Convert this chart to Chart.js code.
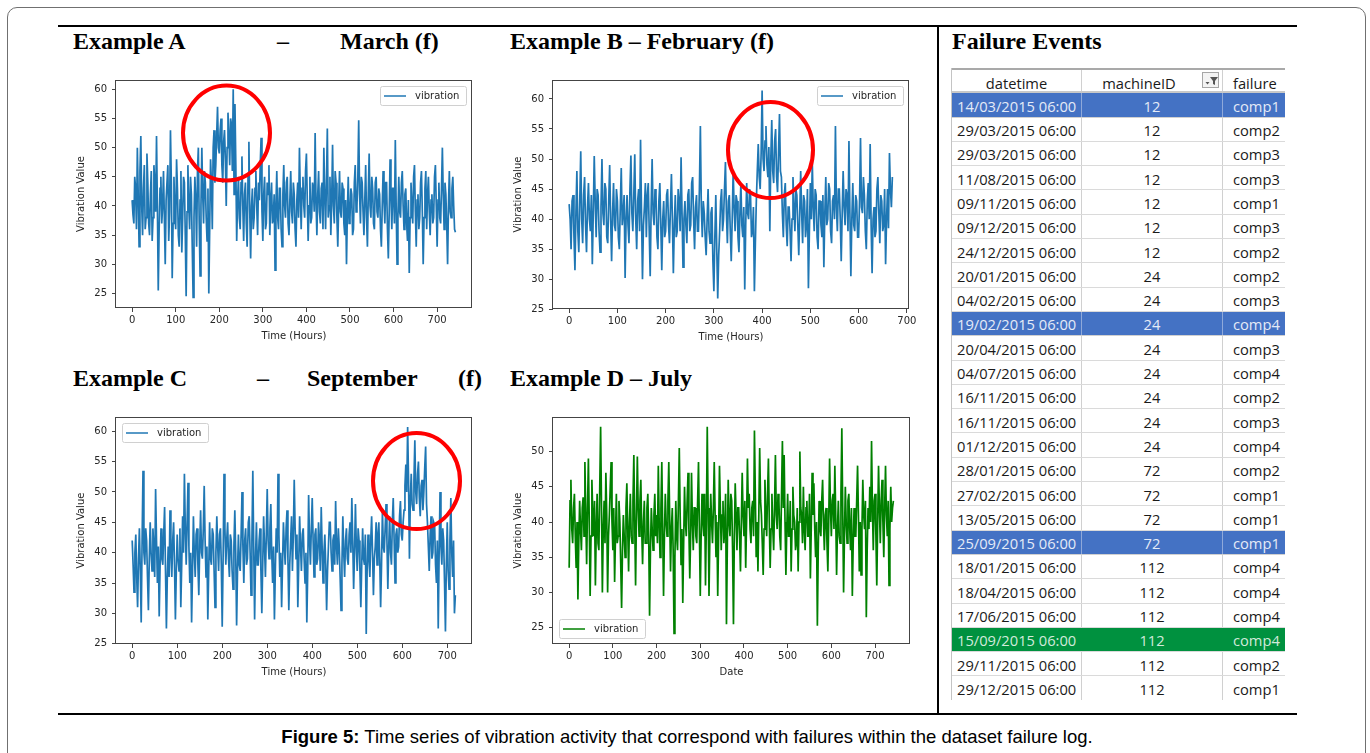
<!DOCTYPE html>
<html>
<head>
<meta charset="utf-8">
<script src="https://cdn.jsdelivr.net/npm/chart.js@4.4.1/dist/chart.umd.min.js"></script>
<style>
  html, body { margin: 0; padding: 0; background: #fff; }
  body { width: 1370px; height: 753px; position: relative; overflow: hidden; }
  .frame { position: absolute; left: 7px; top: 7px; width: 1359px; height: 780px; border: 1.5px solid #707070; border-radius: 10px; box-sizing: border-box; }
  .rule { position: absolute; background: #000; }
  .title { position: absolute; font-family: "Liberation Serif", "Times New Roman", serif; font-weight: bold; font-size: 24px; line-height: 24px; white-space: pre; color: #000; }
  canvas { position: absolute; }
  .table { position: absolute; left: 951px; top: 68px; width: 334px; height: 632px; overflow: hidden; font-family: "Open Sans", sans-serif; font-size: 14.7px; color: #1a1a1a; border-left: 1.5px solid #c4c4c4; box-sizing: border-box; }
  .row { display: flex; height: 24.3px; box-sizing: border-box; border-bottom: 1.5px solid #dadada; line-height: 20px; }
  .row > div { padding-top: 2.5px; box-sizing: border-box; }
  .row.head { height: 25.3px; border-top: 2px solid #a9a9a9; border-bottom: 2px solid #c8c8c8; position: relative; }
  .c1 { width: 130px; padding-left: 5px; border-right: 1.5px solid #d0d0d0; white-space: nowrap; }
  .c2 { width: 141px; text-align: center; border-right: 1.5px solid #d0d0d0; }
  .c3 { flex: 1; padding-left: 10px; white-space: nowrap; }
  .head .c1 { text-align: center; padding-left: 0; }
  .head .c2 { padding-right: 36px; padding-left: 10px; }
  .row.blue { background: #4472c4; color: #e4ebf7; border-bottom-color: #d0d0d0; }
  .row.blue .c1, .row.blue .c2 { border-right-color: #8fa9da; }
  .row.green { background: #00913f; color: #d2eadb; }
  .row.green .c1, .row.green .c2 { border-right-color: #00913f; }
  .filter { position: absolute; left: 250px; top: 2px; width: 17px; height: 16px; border: 1px solid #a6a6a6; background: #f3f3f3; padding: 0 !important; }
  .caption { position: absolute; left: 0; top: 726px; width: 1374px; text-align: center; font-family: "Liberation Sans", Arial, sans-serif; font-size: 18.5px; line-height: 22px; color: #000; }
</style>
</head>
<body>
<div class="frame"></div>
<div class="rule" style="left:58px; top:25px; width:1239px; height:2px;"></div>
<div class="rule" style="left:58px; top:713px; width:1239px; height:2px;"></div>
<div class="rule" style="left:937px; top:25px; width:2px; height:690px;"></div>

<div class="title" style="left:73px; top:29px;">Example A</div>
<div class="title" style="left:277px; top:29px;">–</div>
<div class="title" style="left:340px; top:29px;">March (f)</div>
<div class="title" style="left:510px; top:29px;">Example B – February (f)</div>
<div class="title" style="left:952px; top:29px;">Failure Events</div>
<div class="title" style="left:73px; top:366px;">Example C</div>
<div class="title" style="left:257px; top:366px;">–</div>
<div class="title" style="left:307px; top:366px;">September</div>
<div class="title" style="left:458px; top:366px;">(f)</div>
<div class="title" style="left:510px; top:366px;">Example D – July</div>

<canvas id="chartA" width="421" height="277" style="left:71px; top:69px;"></canvas>
<canvas id="chartB" width="421" height="278" style="left:508px; top:69px;"></canvas>
<canvas id="chartC" width="421" height="276" style="left:71px; top:406px;"></canvas>
<canvas id="chartD" width="422" height="276" style="left:508px; top:406px;"></canvas>

<div class="table" id="failureTable"></div>

<div class="caption"><b>Figure 5:</b> Time series of vibration activity that correspond with failures within the dataset failure log.</div>

<script>
// -------------------- DATA --------------------
const hourStep = 2;
const xTicks = [0, 100, 200, 300, 400, 500, 600, 700];
const yTicks = [25, 30, 35, 40, 45, 50, 55, 60];
const yTicksD = [25, 30, 35, 40, 45, 50];

// Example A - March (every 2 hours, 0..742)
const vibrationA = [
  41, 38.5, 37, 45, 43, 36, 50, 42, 33, 46, 52, 40, 35, 43, 47, 36, 38, 49, 44, 37,
  35, 42, 46, 34, 38, 47, 44, 39, 52, 40, 25.5, 36, 43, 45, 37, 40, 46, 38, 30, 41,
  41, 47, 34, 39, 53, 44, 27.6, 37, 45, 39, 36, 48, 43, 35, 33, 41, 46, 32, 38, 45,
  44, 35, 24.5, 39, 47, 40, 36, 45, 42, 33, 24.3, 38, 45, 41, 33, 46, 50, 37, 28, 40,
  50, 42, 37, 46, 44, 38, 34, 43, 25, 36, 48, 44, 36, 50, 53, 44, 47, 52, 57, 50,
  49, 53, 55, 47, 44, 51, 53, 48, 40, 50, 56, 52, 47, 55, 54, 46, 60, 42, 57.5, 47,
  34, 41, 45, 38, 36, 44, 48.5, 40, 34, 42, 44, 37, 33, 45, 51, 39, 31, 40, 43, 36,
  38, 43, 46, 40, 35, 44, 41, 47, 51.7, 39, 34, 42, 45, 36, 37, 44, 42, 47, 35, 41,
  44, 37, 38, 42, 29, 40, 46, 38, 36, 43, 43, 36, 33, 42, 47, 40, 38, 44, 45, 37,
  35, 41, 46, 39, 37, 44, 42, 36, 33, 41, 44, 38, 50, 42, 36, 43, 45, 40, 38, 46,
  49, 41, 34, 40, 45, 37, 38, 44, 43, 39, 52.5, 41, 35, 42, 46, 39, 37, 43, 44, 36,
  50, 42, 36, 44, 53.3, 38, 40, 45, 35, 41, 50.5, 40, 37, 46, 44, 38, 33, 40, 46, 39,
  38, 44, 43, 37, 35, 41, 30, 39, 45, 37, 38, 43, 42, 35, 36, 44, 47, 39, 40, 45,
  54.7, 42, 37, 45, 44, 39, 35, 41, 47, 38, 33, 42, 49, 40, 38, 45, 43, 37, 36, 44,
  45, 39, 38, 43, 42, 36, 33, 40, 46, 41, 37, 44, 44, 36, 31, 39, 48, 42, 36, 43,
  43, 37, 51.3, 40, 30, 38, 45, 39, 38, 44, 46, 40, 36, 42, 43, 37, 34, 41, 28.5, 38,
  44, 40, 37, 45, 47, 39, 33, 41, 42, 36, 38, 44, 46, 39, 30, 38, 43, 46, 36, 42,
  45, 39, 35, 41, 42, 37, 38, 45, 47, 40, 33, 41, 44, 38, 37, 43, 50, 42, 36, 44,
  42, 37, 30, 40, 46, 39, 38, 43, 45, 40, 36, 35.5
];

// Example B - February (every 2 hours, 0..670)
const vibrationB = [
  42.5, 40, 35, 43, 44, 37, 31.5, 41, 48, 38, 34.5, 43, 51.3, 40, 36, 44, 47, 39, 34.5, 42,
  46, 40, 38, 44, 32.5, 41, 50.5, 43, 37, 45, 44, 38, 34.5, 42, 50, 41, 39, 46, 45, 37,
  36, 43, 49, 40, 33, 41, 46, 39, 38, 45, 43, 37, 35, 42, 48.5, 39, 41, 44, 30.2, 40,
  44, 39, 36, 45, 50.6, 41, 38, 44, 50.8, 40, 35, 43, 45, 38, 53.2, 41, 30, 39, 42, 46,
  37, 44, 46, 38, 30.5, 42, 50, 41, 39, 45, 44, 37, 35, 43, 46, 39, 31.5, 40, 43, 37,
  38, 44, 45, 39, 36, 42, 47.5, 40, 31, 39, 44, 37, 38, 45, 43, 38, 50.3, 41, 32, 40,
  43, 39, 36, 44, 45, 38, 39, 46, 47, 40, 35, 42, 44, 38, 38, 45, 55.5, 42, 37, 43,
  41, 37, 34, 40, 45, 38, 36, 41, 42, 33, 28, 37, 44, 35, 26.8, 34, 38, 43, 45, 38,
  40, 45, 49.5, 41, 36, 43, 44, 38, 33, 40, 48, 42, 38, 44, 43, 37, 34.5, 41, 46, 39,
  37, 42, 28.3, 39, 46, 41, 40, 45, 44, 37, 38, 42, 28, 36, 43, 48, 52.5, 47, 45, 51,
  61.4, 50, 48, 53, 55.5, 49, 47, 52, 38, 50, 56.5, 48, 46, 53, 55, 47, 44.5, 51, 57.5, 48,
  47, 41, 37, 44, 46, 39, 35.5, 42, 42, 38, 33, 40, 47, 42, 38, 45, 44, 39, 34, 41,
  48, 41, 36, 44, 43, 37, 39, 45, 28.5, 38, 46, 40, 49.5, 42, 38, 45, 44, 37, 35, 43,
  43, 39, 37, 44, 32, 41, 47, 39, 40, 46, 45, 38, 36, 43, 44, 40, 55.5, 42, 38, 45,
  45, 40, 33, 41, 48, 42, 39, 45, 44, 38, 53, 41, 30.5, 40, 46, 39, 38, 44, 43, 37,
  37, 43, 53.5, 42, 41, 47, 44, 38, 35, 43, 46, 40, 52.5, 39, 31, 40, 42, 37, 38, 45,
  47, 41, 36, 44, 43, 38, 39, 45, 32.5, 40, 45, 38.5, 51, 45, 42, 47
];

// Example C - September (every 2 hours, 0..718)
const vibrationC = [
  42, 38, 33.5, 40, 43, 36, 31, 39, 44, 37, 28.5, 42, 53.5, 40, 38, 44, 42, 36, 30.5, 39,
  45, 40, 37, 44, 41, 36, 50.5, 42, 35, 41, 29.5, 38, 44, 39, 38, 43, 47.5, 37, 27.5, 36,
  41, 36, 47, 40, 36, 42, 45, 38, 29, 37, 43, 39, 37, 44, 31, 38, 46, 40, 53, 44,
  38, 45, 51.5, 41, 35, 40, 28.5, 37, 46, 40, 36, 43, 44, 38, 33, 41, 47, 40, 39, 44,
  51, 42, 36, 41, 29, 37, 45, 39, 38, 44, 43, 37, 31, 40, 46, 41, 37, 43, 44, 38,
  27.8, 39, 53, 44, 38, 42, 45, 39, 36, 43, 42, 37, 34, 41, 47, 40, 28, 37, 43, 38,
  37, 43, 50, 41, 35, 42, 44, 38, 39, 45, 46, 40, 33, 42, 53.5, 41, 29, 39, 45, 38,
  38, 42, 44, 37, 30, 38, 46, 41, 36, 43, 50.5, 42, 39, 44, 48, 40, 35, 41, 29, 37,
  44, 40, 53, 43, 36, 40, 31, 38, 45, 41, 38, 44, 47, 39, 30.5, 38, 42, 46, 37, 43,
  52, 44, 39, 43, 31, 38, 46, 41, 37, 43, 44, 39, 35, 40, 28.5, 37, 49.5, 42, 38, 44,
  49, 42, 36, 43, 44, 38, 39, 45, 42, 37, 47.5, 41, 35, 40, 43, 38, 30.5, 37, 41, 45,
  45, 40, 37, 42, 43, 38, 48.5, 41, 38, 44, 41, 36, 30.5, 38, 46, 40, 36, 42, 44, 39,
  38, 43, 45, 40, 49, 42, 34, 40, 48, 41, 37, 44, 42, 37, 31, 38, 44, 39, 38, 43,
  26.6, 37, 43, 39, 36, 42, 46, 40, 33, 39, 41, 45, 38, 43, 45, 39, 31, 38, 47, 41,
  40, 44, 48, 42, 34, 41, 46, 40, 38, 45, 49, 42, 35, 43, 44, 40, 41, 46, 48.5, 43,
  42, 45, 47, 51, 54.5, 50, 60.7, 52, 39, 49, 53, 48, 47, 52, 58.5, 50, 48, 53, 55, 49,
  46, 51, 52, 47, 50, 54, 57.5, 48, 45, 41, 37, 43, 46, 39, 40, 45, 44.5, 38, 35, 42,
  27.5, 40, 50, 41, 38, 44, 42, 35, 27, 38, 45, 37, 34, 42, 49, 40, 36, 42, 30, 33
];

// Example D - July (every 2 hours, 0..742)
const vibrationD = [
  33.5, 43, 46, 39, 37, 42, 44, 38, 33.5, 40, 29, 37, 43, 39, 36, 42, 43.5, 38, 48.5, 41,
  34, 42, 49, 40, 29.5, 38, 46, 41, 38, 43, 31, 39, 44, 37, 36, 45, 53.5, 42, 30, 39,
  43, 37, 47, 41, 30, 38, 41, 45, 48.5, 40, 36, 42, 31.5, 38, 44, 37, 38, 43, 40, 34,
  27.8, 36, 41, 38, 35, 42, 45.5, 39, 33, 40, 44, 38, 37, 43, 49.5, 40, 31, 41, 49.3, 42,
  38, 43, 46, 39, 34, 40, 43, 37, 37, 42, 44, 38, 26.7, 36, 42, 39, 36, 41, 44, 38,
  41, 37, 48, 40, 35, 42, 48.5, 39, 29.5, 38, 44, 40, 38, 43, 48.5, 41, 33, 39, 42, 36,
  24.2, 35, 43, 38, 36, 43, 50.5, 41, 34, 39, 28.5, 37, 45, 40, 38, 43, 47, 39, 32, 38,
  47, 40, 36, 42, 42, 38, 37, 43, 48.5, 39, 29.5, 38, 44, 40, 38, 44, 31, 40, 53.5, 42,
  29.5, 38, 44, 40, 37, 42, 48.5, 41, 35, 40, 29.5, 38, 48, 42, 36, 41, 43, 37, 39, 44,
  25.5, 37, 46, 40, 38, 44, 43, 36, 25.5, 38, 45.5, 41, 36, 42, 42, 38, 33, 40, 47, 41,
  38, 43, 33.5, 40, 49, 42, 44, 39, 37, 42, 43, 38, 53, 44, 35, 40, 33, 41, 50.5, 43,
  41, 37, 32.5, 39, 46, 41, 38, 44, 49, 40, 33.5, 39, 44, 39, 36, 42, 49.5, 41, 39, 44,
  43, 38, 36, 44, 51.5, 42, 49.5, 40, 32.5, 39, 44, 38, 38, 43, 33, 39, 45, 41, 40, 36,
  37, 42, 33, 40, 50, 42, 41, 37, 45, 39, 36, 42, 43, 38, 38, 44, 32, 39, 47, 41,
  45.5, 39, 35, 40, 25.3, 36, 43, 39, 38, 43, 46, 40, 36, 41, 42, 37, 33, 40, 49, 42,
  38, 43, 44, 39, 48, 41, 32.5, 39, 43, 38, 37, 44, 53.3, 42, 30, 38, 45, 40, 37, 43,
  44, 39, 36, 42, 29.5, 37, 42, 38, 38, 43, 48, 41, 33, 40, 32.5, 39, 46, 41, 39, 43,
  26.5, 36, 42, 39, 45, 40, 51.5, 42, 36, 43, 44, 38, 31, 40, 48, 42, 37, 43, 46, 40,
  35, 42, 48, 41, 38, 43, 31, 39, 45, 40, 42, 43
];

// Failure log table
const failureDates = [
  "14/03/2015 06:00", "29/03/2015 06:00", "29/03/2015 06:00", "11/08/2015 06:00", "09/11/2015 06:00",
  "09/12/2015 06:00", "24/12/2015 06:00", "20/01/2015 06:00", "04/02/2015 06:00", "19/02/2015 06:00",
  "20/04/2015 06:00", "04/07/2015 06:00", "16/11/2015 06:00", "16/11/2015 06:00", "01/12/2015 06:00",
  "28/01/2015 06:00", "27/02/2015 06:00", "13/05/2015 06:00", "25/09/2015 06:00", "18/01/2015 06:00",
  "18/04/2015 06:00", "17/06/2015 06:00", "15/09/2015 06:00", "29/11/2015 06:00", "29/12/2015 06:00"
];
const failureMachines = [12, 12, 12, 12, 12, 12, 12, 24, 24, 24, 24, 24, 24, 24, 24, 72, 72, 72, 72, 112, 112, 112, 112, 112, 112];
const failureComps = [
  "comp1", "comp2", "comp3", "comp3", "comp1", "comp3", "comp2", "comp2", "comp3", "comp4",
  "comp3", "comp4", "comp2", "comp3", "comp4", "comp2", "comp1", "comp1", "comp1", "comp4",
  "comp4", "comp4", "comp4", "comp2", "comp1"
];
const highlightRows = { 0: "blue", 9: "blue", 18: "blue", 22: "green" };

// -------------------- MATPLOTLIB LOOK --------------------
const matplotlibLook = {
  id: "matplotlibLook",
  afterDraw(chart, args, opts) {
    const ctx = chart.ctx;
    const a = chart.chartArea;
    ctx.save();

    // axes frame
    ctx.strokeStyle = "#444";
    ctx.lineWidth = 1;
    ctx.strokeRect(Math.round(a.left) - 0.5, Math.round(a.top) + 0.5, Math.round(a.width), Math.round(a.height) - 1);

    // legend box
    const w = 86, h = 19;
    let lx = a.left + 6, ly = a.top + 6;
    if (opts.legend === "tr") lx = a.right - 6 - w;
    if (opts.legend === "bl") ly = a.bottom - 6 - h;
    ctx.fillStyle = "rgba(255,255,255,0.9)";
    ctx.strokeStyle = "#d0d0d0";
    ctx.beginPath();
    ctx.roundRect(lx + 0.5, ly + 0.5, w, h, 2);
    ctx.fill();
    ctx.stroke();
    ctx.strokeStyle = chart.data.datasets[0].borderColor;
    ctx.lineWidth = 1.5;
    ctx.beginPath();
    ctx.moveTo(lx + 4, ly + h / 2 + 0.5);
    ctx.lineTo(lx + 26, ly + h / 2 + 0.5);
    ctx.stroke();
    ctx.fillStyle = "#262626";
    ctx.font = "10px 'DejaVu Sans'";
    ctx.textBaseline = "middle";
    ctx.fillText("vibration", lx + 35, ly + h / 2 + 1);

    // red circle around the failure
    if (opts.circle) {
      const c = opts.circle;
      const cx = chart.scales.x.getPixelForValue(c.x);
      const cy = chart.scales.y.getPixelForValue(c.y);
      ctx.strokeStyle = "#ff0000";
      ctx.lineWidth = 4;
      ctx.beginPath();
      ctx.ellipse(cx, cy, c.rx, c.ry, 0, 0, Math.PI * 2);
      ctx.stroke();
    }
    ctx.restore();
  }
};

function makeChart(id, values, color, s) {
  const points = values.map((v, i) => ({ x: i * hourStep, y: v }));
  const tickFont = { family: "DejaVu Sans", size: 10 };

  return new Chart(document.getElementById(id), {
    type: "line",
    data: {
      datasets: [{
        label: "vibration",
        data: points,
        borderColor: color,
        borderWidth: 1.7,
        pointRadius: 0,
        tension: 0,
        fill: false
      }]
    },
    options: {
      responsive: false,
      animation: false,
      layout: { padding: { top: 10, right: 20, left: 0, bottom: 0 } },
      plugins: {
        legend: { display: false },
        tooltip: { enabled: false },
        matplotlibLook: { legend: s.legend, circle: s.circle }
      },
      scales: {
        x: {
          type: "linear",
          min: s.xMin,
          max: s.xMax,
          afterBuildTicks: (scale) => { scale.ticks = xTicks.map((v) => ({ value: v })); },
          afterFit: (scale) => { scale.height = 38; },
          ticks: { font: tickFont, color: "#262626", padding: 2, maxRotation: 0 },
          grid: { drawOnChartArea: false, drawTicks: true, tickLength: 4, color: "#444" },
          border: { display: false },
          title: { display: true, text: s.xTitle, font: tickFont, color: "#262626", padding: { top: 2, bottom: 4 } }
        },
        y: {
          min: s.yMin,
          max: s.yMax,
          afterBuildTicks: (scale) => { scale.ticks = s.yTicks.map((v) => ({ value: v })); },
          afterFit: (scale) => { scale.width = 45; },
          ticks: { font: tickFont, color: "#262626", padding: 5 },
          grid: { drawOnChartArea: false, drawTicks: true, tickLength: 4, color: "#444" },
          border: { display: false },
          title: { display: true, text: "Vibration Value", font: tickFont, color: "#262626", padding: { top: 4, bottom: 4 } }
        }
      }
    },
    plugins: [matplotlibLook]
  });
}

// -------------------- CHARTS --------------------
makeChart("chartA", vibrationA, "#1f77b4", {
  xMin: -37, xMax: 780, yMin: 22.5, yMax: 61.6, yTicks: yTicks,
  xTitle: "Time (Hours)", legend: "tr",
  circle: { x: 216.6, y: 52.5, rx: 43.5, ry: 47.5 }
});

makeChart("chartB", vibrationB, "#1f77b4", {
  xMin: -33.5, xMax: 704.5, yMin: 25.05, yMax: 63.15, yTicks: yTicks,
  xTitle: "Time (Hours)", legend: "tr",
  circle: { x: 417.4, y: 51.5, rx: 42.5, ry: 48 }
});

makeChart("chartC", vibrationC, "#1f77b4", {
  xMin: -36, xMax: 755, yMin: 24.95, yMax: 62.35, yTicks: yTicks,
  xTitle: "Time (Hours)", legend: "tl",
  circle: { x: 631.7, y: 51.8, rx: 43.5, ry: 48 }
});

makeChart("chartD", vibrationD, "#008000", {
  xMin: -37, xMax: 780, yMin: 22.7, yMax: 54.9, yTicks: yTicksD,
  xTitle: "Date", legend: "bl"
});

// -------------------- TABLE --------------------
const table = document.getElementById("failureTable");
let html = `
  <div class="row head">
    <div class="c1">datetime</div>
    <div class="c2">machineID</div>
    <div class="c3">failure</div>
    <div class="filter">
      <svg width="17" height="16" viewBox="0 0 17 16">
        <path d="M7 4 H15 L12 8 V12 L10 11 V8 Z" fill="#555"/>
        <path d="M2.5 9 H6.5 L4.5 11.5 Z" fill="#555"/>
      </svg>
    </div>
  </div>`;

failureDates.forEach((d, i) => {
  const cls = highlightRows[i] ? "row " + highlightRows[i] : "row";
  html += `
  <div class="${cls}">
    <div class="c1">${d}</div>
    <div class="c2">${failureMachines[i]}</div>
    <div class="c3">${failureComps[i]}</div>
  </div>`;
});

table.innerHTML = html;
</script>
</body>
</html>
